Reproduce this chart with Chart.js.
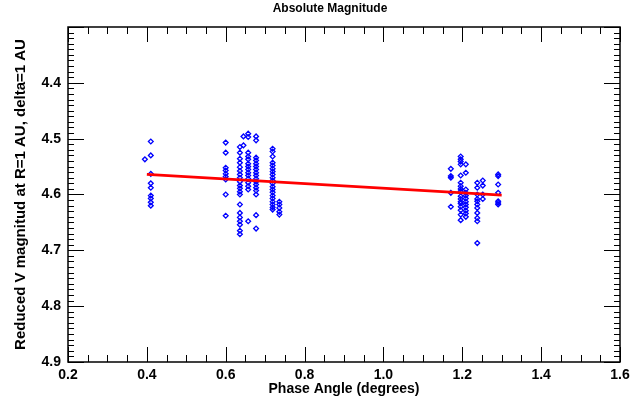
<!DOCTYPE html>
<html>
<head>
<meta charset="utf-8">
<script src="https://cdn.jsdelivr.net/npm/chart.js@4.4.1/dist/chart.umd.min.js"></script>
<style>
  html, body { margin: 0; padding: 0; background: #fff; }
  canvas { display: block; }
</style>
</head>
<body>
<canvas id="myChart" width="643" height="401"></canvas>
<script>
// phase angle of each observation column (degrees)
let phaseCols = [0.395, 0.410, 0.600, 0.636, 0.645, 0.657, 0.677, 0.719, 0.736,
                 1.171, 1.196, 1.209, 1.238, 1.252, 1.291];
// reduced V magnitudes measured in each column
let magCols = [
  [4.537],
  [4.505, 4.530, 4.563, 4.580, 4.588, 4.602, 4.607, 4.614, 4.620],
  [4.507, 4.525, 4.552, 4.557, 4.563, 4.568, 4.573, 4.600, 4.638],
  [4.515, 4.525, 4.536, 4.543, 4.551, 4.558, 4.564, 4.570, 4.577, 4.584,
   4.589, 4.595, 4.600, 4.618, 4.633, 4.641, 4.648, 4.654, 4.665, 4.671],
  [4.496, 4.512],
  [4.491, 4.497, 4.525, 4.532, 4.537, 4.545, 4.550, 4.555, 4.561, 4.566,
   4.572, 4.579, 4.585, 4.591, 4.648],
  [4.496, 4.503, 4.534, 4.539, 4.545, 4.550, 4.555, 4.561, 4.566, 4.572,
   4.577, 4.582, 4.588, 4.593, 4.600, 4.637, 4.661],
  [4.518, 4.523, 4.532, 4.543, 4.548, 4.554, 4.559, 4.564, 4.570, 4.575,
   4.580, 4.586, 4.591, 4.596, 4.602, 4.607, 4.613, 4.618, 4.623, 4.627],
  [4.613, 4.618, 4.624, 4.631, 4.636],
  [4.554, 4.567, 4.570, 4.597, 4.622],
  [4.532, 4.537, 4.541, 4.546, 4.566, 4.579, 4.585, 4.590, 4.594, 4.603,
   4.608, 4.613, 4.616, 4.622, 4.628, 4.636, 4.646],
  [4.546, 4.561, 4.591, 4.597, 4.602, 4.607, 4.613, 4.618, 4.623, 4.629,
   4.634, 4.640],
  [4.579, 4.588, 4.600, 4.608, 4.612, 4.618, 4.624, 4.633, 4.642, 4.648, 4.687],
  [4.575, 4.584, 4.600, 4.608],
  [4.564, 4.567, 4.582, 4.597, 4.612, 4.615, 4.618]
];
// linear fit end points
let fitPhase = [0.40, 1.30];
let fitMag = [4.564, 4.601];

let xTicks = [0.2, 0.4, 0.6, 0.8, 1.0, 1.2, 1.4, 1.6];
let yTicks = [4.3, 4.4, 4.5, 4.6, 4.7, 4.8, 4.9];

let points = [];
phaseCols.forEach((p, i) => {
  magCols[i].forEach(m => points.push({x: p, y: m}));
});
let fitLine = fitPhase.map((p, i) => ({x: p, y: fitMag[i]}));

Chart.defaults.font.family = '"Liberation Sans", Arial, sans-serif';
Chart.defaults.color = '#000';

// box round the plot with IDL style inward ticks, plus the title
let frameTicks = {
  id: 'frameTicks',
  afterDraw(chart) {
    let {ctx, chartArea: a, scales: {x, y}} = chart;
    ctx.save();
    ctx.strokeStyle = '#000';
    ctx.lineWidth = 1;
    ctx.beginPath();
    for (let i = 0; i <= 28; i++) {
      let px = Math.round(x.getPixelForValue(0.2 + i * 0.05)) + 0.5;
      let len = i % 4 === 0 ? 15 : 7;
      ctx.moveTo(px, a.bottom); ctx.lineTo(px, a.bottom - len);
      ctx.moveTo(px, a.top); ctx.lineTo(px, a.top + len);
    }
    for (let i = 0; i <= 60; i++) {
      let py = Math.round(y.getPixelForValue(4.3 + i * 0.01)) + 0.5;
      let len = i % 10 === 0 ? 16 : 6;
      ctx.moveTo(a.left, py); ctx.lineTo(a.left + len, py);
      ctx.moveTo(a.right, py); ctx.lineTo(a.right - len, py);
    }
    ctx.stroke();
    ctx.lineWidth = 1.5;
    ctx.strokeRect(a.left, a.top, a.right - a.left, a.bottom - a.top);
    ctx.fillStyle = '#000';
    ctx.font = 'bold 12px "Liberation Sans"';
    ctx.textAlign = 'center';
    ctx.textBaseline = 'middle';
    ctx.fillText('Absolute Magnitude', 330, 9);
    ctx.restore();
  }
};

let ctx = document.getElementById('myChart').getContext('2d');
let myChart = new Chart(ctx, {
  type: 'scatter',
  data: {
    datasets: [{
      type: 'line',
      data: fitLine,
      borderColor: '#ff0000',
      borderWidth: 2.8,
      pointRadius: 0,
      fill: false
    }, {
      data: points,
      pointStyle: 'rectRot',
      pointRadius: 2.4,
      borderWidth: 1.3,
      borderColor: '#0000ff',
      backgroundColor: 'rgba(0,0,0,0)'
    }]
  },
  options: {
    responsive: false,
    animation: false,
    devicePixelRatio: 1,
    layout: { padding: { top: 27, right: 23, left: 0, bottom: 0 } },
    plugins: {
      legend: { display: false },
      tooltip: { enabled: false }
    },
    scales: {
      x: {
        type: 'linear',
        min: 0.2,
        max: 1.6,
        afterFit: (scale) => { scale.height = 39; },
        afterBuildTicks: (scale) => { scale.ticks = xTicks.map(v => ({value: v})); },
        grid: { display: false, drawTicks: false },
        border: { display: false },
        ticks: {
          autoSkip: false,
          maxRotation: 0,
          padding: 5,
          font: { size: 14, weight: 'bold' },
          callback: (v) => v.toFixed(1)
        },
        title: {
          display: true,
          text: 'Phase Angle (degrees)',
          font: { size: 14, weight: 'bold' },
          padding: { top: 0, bottom: 3 }
        }
      },
      y: {
        type: 'linear',
        reverse: true,
        min: 4.3,
        max: 4.9,
        afterFit: (scale) => { scale.width = 68; },
        afterBuildTicks: (scale) => { scale.ticks = yTicks.map(v => ({value: v})); },
        grid: { display: false, drawTicks: false },
        border: { display: false },
        ticks: {
          autoSkip: false,
          padding: 7,
          font: { size: 14, weight: 'bold' },
          callback: (v) => (Math.abs(v - 4.3) < 1e-6 ? '' : v.toFixed(1))
        },
        title: {
          display: true,
          text: 'Reduced V magnitud at R=1 AU, delta=1 AU',
          font: { size: 15, weight: 'bold' },
          padding: { top: 12, bottom: 0 }
        }
      }
    }
  },
  plugins: [frameTicks]
});
</script>
</body>
</html>
